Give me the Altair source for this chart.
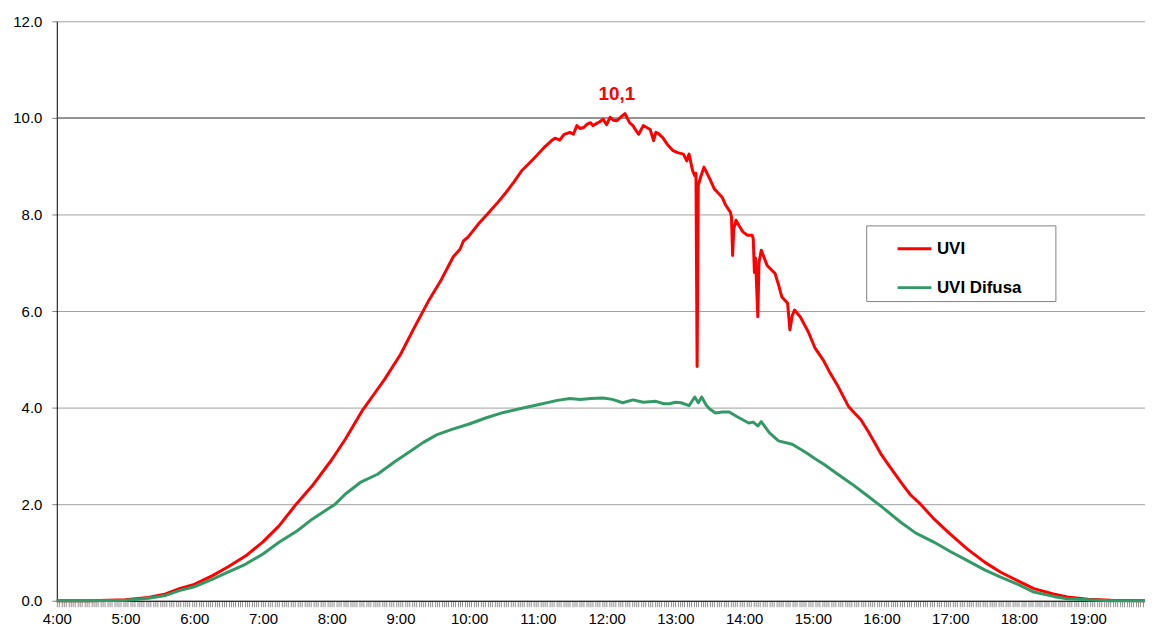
import altair as alt
import pandas as pd

FONT = "Liberation Sans"

# UVI (global) series: time of day and index value
uvi_time = [
    "04:00", "04:30", "05:00", "05:20", "05:35", "05:47", "06:00", "06:16", "06:30", "06:45",
    "07:00", "07:14", "07:29", "07:43", "08:00", "08:12", "08:27", "08:40", "08:46", "09:00",
    "09:12", "09:25", "09:35", "09:46", "09:52", "09:55", "09:59", "10:08", "10:16", "10:25",
    "10:32", "10:39", "10:46", "10:52", "10:59", "11:06", "11:12", "11:15", "11:19", "11:23",
    "11:28", "11:31", "11:34", "11:37", "11:40", "11:43", "11:46", "11:48", "11:51", "11:54",
    "11:57", "12:00", "12:03", "12:06", "12:09", "12:13", "12:16", "12:20", "12:23", "12:25",
    "12:28", "12:32", "12:35", "12:38", "12:41", "12:43", "12:45", "12:49", "12:53", "12:58",
    "13:02", "13:07", "13:10", "13:12", "13:15", "13:17", "13:18", "13:19", "13:20", "13:22",
    "13:25", "13:30", "13:34", "13:38", "13:41", "13:44", "13:48", "13:49", "13:50", "13:51",
    "13:53", "13:56", "13:59", "14:03", "14:07", "14:08", "14:09", "14:10", "14:12", "14:13",
    "14:15", "14:20", "14:24", "14:27", "14:30", "14:33", "14:38", "14:40", "14:42", "14:44",
    "14:49", "14:56", "15:02", "15:09", "15:15", "15:22", "15:31", "15:36", "15:42", "15:48",
    "15:54", "16:00", "16:05", "16:17", "16:25", "16:34", "16:46", "17:00", "17:15", "17:30",
    "17:44", "18:00", "18:13", "18:30", "18:42", "19:00", "19:20", "19:50",
]
uvi_value = [
    0.00, 0.00, 0.02, 0.07, 0.14, 0.25, 0.34, 0.52, 0.71, 0.93,
    1.22, 1.55, 2.00, 2.38, 2.92, 3.35, 3.95, 4.38, 4.58, 5.10,
    5.65, 6.23, 6.62, 7.12, 7.28, 7.45, 7.53, 7.80, 8.01, 8.25,
    8.45, 8.67, 8.91, 9.05, 9.22, 9.40, 9.53, 9.58, 9.54, 9.66,
    9.70, 9.66, 9.84, 9.78, 9.80, 9.87, 9.90, 9.84, 9.88, 9.92,
    9.97, 9.86, 10.01, 9.95, 9.94, 10.03, 10.09, 9.90, 9.84, 9.76,
    9.66, 9.84, 9.80, 9.76, 9.53, 9.70, 9.68, 9.59, 9.45, 9.32,
    9.28, 9.25, 9.11, 9.25, 8.91, 8.80, 8.85, 4.85, 8.60, 8.77,
    8.98, 8.74, 8.53, 8.43, 8.35, 8.19, 8.05, 7.95, 7.15, 7.70,
    7.88, 7.75, 7.64, 7.57, 7.57, 7.50, 6.80, 7.10, 5.88, 7.00,
    7.26, 6.95, 6.85, 6.78, 6.55, 6.29, 6.16, 5.61, 5.90, 6.02,
    5.88, 5.57, 5.23, 4.99, 4.72, 4.44, 4.03, 3.90, 3.75, 3.52,
    3.27, 3.02, 2.85, 2.45, 2.20, 2.00, 1.69, 1.38, 1.07, 0.80,
    0.59, 0.40, 0.25, 0.14, 0.08, 0.03, 0.01, 0.00,
]

# UVI Difusa (diffuse) series
dif_time = [
    "04:00", "04:30", "05:00", "05:20", "05:35", "05:47", "06:00", "06:16", "06:30", "06:45",
    "07:00", "07:14", "07:30", "07:43", "08:03", "08:12", "08:25", "08:40", "08:55", "09:09",
    "09:20", "09:32", "09:45", "10:00", "10:15", "10:30", "10:45", "11:00", "11:17", "11:28",
    "11:37", "11:46", "11:57", "12:05", "12:14", "12:23", "12:32", "12:43", "12:50", "12:55",
    "13:00", "13:05", "13:12", "13:17", "13:20", "13:23", "13:27", "13:30", "13:35", "13:41",
    "13:47", "13:54", "14:04", "14:08", "14:12", "14:15", "14:22", "14:30", "14:42", "14:54",
    "15:02", "15:10", "15:20", "15:34", "15:48", "16:00", "16:17", "16:30", "16:46", "17:00",
    "17:15", "17:30", "17:44", "18:00", "18:13", "18:30", "18:42", "19:00", "19:20", "19:50",
]
dif_value = [
    0.00, 0.00, 0.01, 0.05, 0.11, 0.21, 0.29, 0.45, 0.60, 0.76,
    0.97, 1.21, 1.45, 1.69, 2.00, 2.21, 2.45, 2.62, 2.88, 3.10,
    3.28, 3.44, 3.55, 3.66, 3.79, 3.90, 3.98, 4.06, 4.15, 4.19,
    4.17, 4.19, 4.20, 4.17, 4.10, 4.16, 4.11, 4.13, 4.08, 4.08,
    4.11, 4.10, 4.04, 4.22, 4.10, 4.22, 4.05, 3.97, 3.89, 3.91,
    3.91, 3.81, 3.68, 3.70, 3.62, 3.71, 3.48, 3.31, 3.24, 3.07,
    2.94, 2.82, 2.65, 2.42, 2.17, 1.95, 1.62, 1.40, 1.21, 1.02,
    0.83, 0.64, 0.49, 0.33, 0.18, 0.09, 0.04, 0.02, 0.00, 0.00,
]

series_names = ["UVI", "UVI Difusa"]
series_colors = ["#FF0000", "#339966"]

peak_label = "10,1"
peak_label_time = "12:09"
peak_label_value = 10.1

y_ticks = [0, 2, 4, 6, 8, 10, 12]
x_start, x_end, x_tick_step = 240, 1190, 2  # minutes of the day


def to_min(t):
    h, m = t.split(":")
    return int(h) * 60 + int(m)


df = pd.concat([
    pd.DataFrame({"min": [to_min(t) for t in uvi_time], "v": uvi_value, "serie": series_names[0]}),
    pd.DataFrame({"min": [to_min(t) for t in dif_time], "v": dif_value, "serie": series_names[1]}),
])

x_values = list(range(x_start, x_end + 1, x_tick_step))

x_enc = alt.X(
    "min:Q",
    scale=alt.Scale(domain=[x_start, x_end], nice=False, zero=False),
    axis=alt.Axis(
        values=x_values, tickCount=5000,
        labelExpr="datum.value % 60 == 0 ? floor(datum.value / 60) + ':00' : ''",
        labelOverlap=False, labelFlush=False, grid=False,
        tickColor="#909090", tickSize=6, tickWidth=1,
        domainColor="#000000", domainWidth=1,
        labelFont=FONT, labelFontSize=15, labelColor="#000000", labelPadding=5,
        title=None,
    ),
)
y_enc = alt.Y(
    "v:Q",
    scale=alt.Scale(domain=[0, 12], nice=False),
    axis=alt.Axis(
        values=y_ticks, format=".1f", grid=True, gridColor="#A0A0A0", gridWidth=1,
        tickColor="#808080", tickSize=5, domainColor="#000000", domainWidth=1,
        labelFont=FONT, labelFontSize=15, labelColor="#000000", labelPadding=10,
        title=None,
    ),
)
color_enc = alt.Color(
    "serie:N",
    scale=alt.Scale(domain=series_names, range=series_colors),
    legend=alt.Legend(
        title=None, orient="none", legendX=813, legendY=205,
        symbolType="stroke", symbolSize=1156, symbolStrokeWidth=3,
        symbolOffset=25, labelOffset=4,
        labelFont=FONT, labelFontSize=17, labelFontWeight="bold", labelColor="#000000",
        labelExpr="datum.label + '\u2800 \u2800'",
        padding=5, rowPadding=12,
        strokeColor="#808080", fillColor="#FFFFFF",
    ),
)

base = alt.Chart(df)
red = base.transform_filter(alt.datum.serie == series_names[0]).mark_line(
    strokeWidth=3, strokeJoin="round").encode(x=x_enc, y=y_enc, color=color_enc)
green = base.transform_filter(alt.datum.serie == series_names[1]).mark_line(
    strokeWidth=3, strokeJoin="round").encode(x=x_enc, y=y_enc, color=color_enc)

rule10 = alt.Chart(pd.DataFrame({"v": [10]})).mark_rule(color="#606060", strokeWidth=1).encode(y="v:Q")

label = alt.Chart(pd.DataFrame({"min": [to_min(peak_label_time)], "v": [peak_label_value], "t": [peak_label]})).mark_text(
    font=FONT, fontSize=19, fontWeight="bold", color="#FF0000", dy=-19, baseline="middle", align="center"
).encode(x="min:Q", y="v:Q", text="t:N")

chart = alt.layer(rule10, red, green, label).properties(
    width=1093, height=582,
    padding={"left": 49, "top": 12, "right": 0, "bottom": 25},
    autosize=alt.AutoSizeParams(type="none"),
    background="#FFFFFF",
).configure_view(strokeWidth=0)

chart.save("out.html", embed_options={"renderer": "svg", "actions": False})
